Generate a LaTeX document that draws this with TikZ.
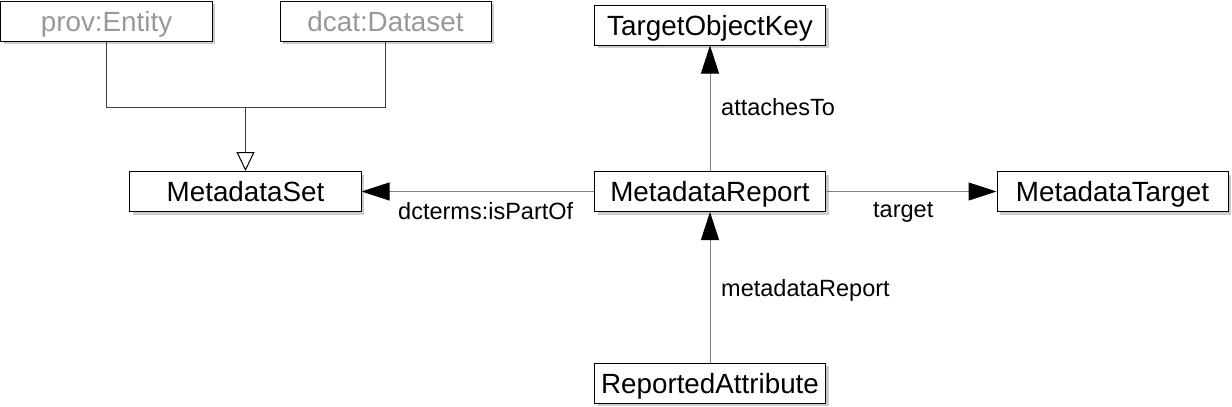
\documentclass[tikz,border=0pt]{standalone}
\usepackage{fontspec}
\setmainfont{Liberation Sans}
\usetikzlibrary{arrows.meta,shadows}
\definecolor{linegray}{HTML}{808080}
\definecolor{gengray}{HTML}{404040}
\definecolor{txtgray}{HTML}{999999}
\tikzset{
  umlbox/.style={draw=black, line width=1bp, fill=white, rectangle, inner sep=0pt,
    minimum width=231bp, minimum height=40bp, text height=20bp, text depth=0pt,
    font=\fontsize{27.8bp}{30bp}\selectfont,
    drop shadow={shadow xshift=3bp, shadow yshift=-3bp, fill=black!25, opacity=0.8}},
  extbox/.style={umlbox, minimum width=211bp, text=txtgray},
  lbl/.style={font=\fontsize{23.5bp}{26bp}\selectfont, inner sep=0pt, anchor=base west},
  assoc/.style={draw=linegray, line width=1bp, -{Triangle[length=28bp, width=18bp, fill=black, color=black]}},
  genline/.style={draw=gengray, line width=1bp},
  genarrow/.style={genline, -{Triangle[open, length=19bp, width=18bp, fill=white, color=black]}}
}
\begin{document}
\begin{tikzpicture}[x=1bp, y=-1bp]
\useasboundingbox (0,0) rectangle (1232,406);
\node[extbox] (pe) at (106.5,21) {prov:Entity};
\node[extbox] (dd) at (385.5,21) {dcat:Dataset};
\node[umlbox] (ms) at (245.5,191.5) {MetadataSet};
\node[umlbox] (tok) at (710,25) {TargetObjectKey};
\node[umlbox] (mr) at (710,191.5) {MetadataReport};
\node[umlbox] (mt) at (1112.5,191.5) {MetadataTarget};
\node[umlbox] (ra) at (710,383) {ReportedAttribute};
\coordinate (j) at (245.5,107);
\draw[genline] (pe.south) |- (j);
\draw[genline] (dd.south) |- (j);
\draw[genarrow] (j) -- (ms.north);
\draw[assoc] (mr.north) -- (tok.south);
\draw[assoc] (mr.west) -- (ms.east);
\draw[assoc] (mr.east) -- (mt.west);
\draw[assoc] (ra.north) -- (mr.south);
\node[lbl] (l1) at (721,115) {attachesTo};
\node[lbl] (l2) at (398,219) {dcterms:isPartOf};
\node[lbl] (l3) at (873,217) {target};
\node[lbl] (l4) at (721,296) {metadataReport};
\end{tikzpicture}
\end{document}
